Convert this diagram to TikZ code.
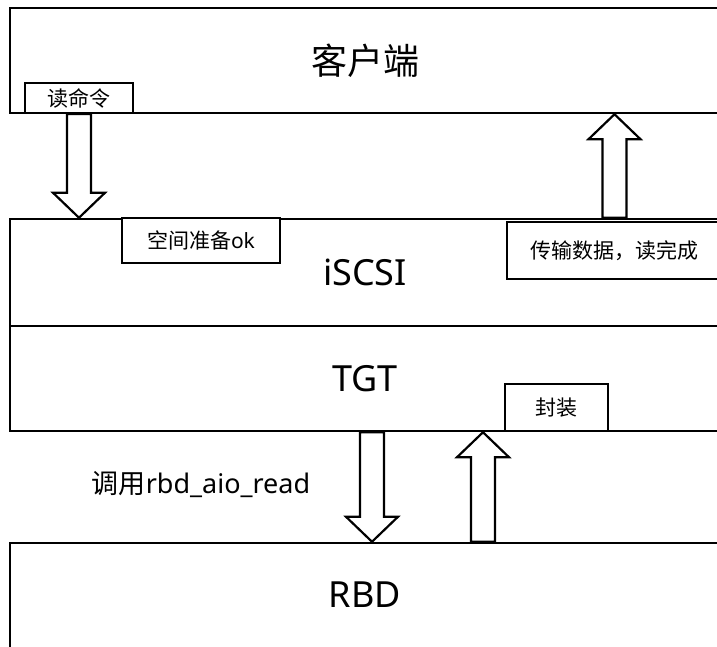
\documentclass[tikz,border=0pt]{standalone}
\usepackage{fontspec}
\setmainfont{Noto Sans}
\newfontfamily\cjk{Noto Sans CJK SC}
\usetikzlibrary{calc}

\tikzset{
  layer/.style={draw, line width=2.5pt, minimum width=710pt, inner sep=0pt,
                font=\fontsize{36}{40}\selectfont},
  tag/.style={draw, fill=white, line width=2.2pt, inner sep=0pt,
              font=\fontsize{21}{24}\selectfont},
  fatline/.style={draw, fill=white, line width=2.2pt, line join=miter},
}

% hollow block arrow, shaft from #1, tip at #2
\newcommand{\fatarrow}[2]{%
  \path[fatline] let \p1=(#1), \p2=(#2), \p3=($(\p2)!25pt!(\p1)$) in
    (\x1-12pt,\y1) -- (\x1-12pt,\y3) -- (\x1-26pt,\y3) -- (\x2,\y2)
    -- (\x1+26pt,\y3) -- (\x1+12pt,\y3) -- (\x1+12pt,\y1) -- cycle;}

\begin{document}
\begin{tikzpicture}[x=1pt,y=1pt]
  \useasboundingbox (0,0) rectangle (717,-647);
  \clip (0,0) rectangle (717,-647);

  % the four layers
  \node[layer, minimum height=105pt] (client) at (365,-60.5) {\cjk 客户端};
  \node[layer, minimum height=107pt] (iscsi) at (365,-272.5) {iSCSI};
  \node[layer, minimum height=105pt] (tgt) at (365,-378.5) {TGT};
  \node[layer, minimum height=130pt] (rbd) at (365,-608) {};
  \node[font=\fontsize{36}{40}\selectfont] (rbdtext) at (365,-595) {RBD};

  % small tags on the layer borders
  \node[tag, minimum width=108pt, minimum height=30pt] (cmd) at (79,-98) {\cjk 读命令};
  \node[tag, minimum width=158pt, minimum height=45pt] (ready) at (201,-240.5) {{\cjk 空间准备}ok};
  \node[tag, minimum width=215pt, minimum height=57pt] (done) at (614.5,-250.5) {\cjk 传输数据，读完成};
  \node[tag, minimum width=103pt, minimum height=47pt] (wrap) at (556.5,-407.5) {\cjk 封装};
  \node[font=\fontsize{27}{30}\selectfont] (call) at (201,-485) {{\cjk 调用}rbd\_aio\_read};

  % arrows between the layers
  \coordinate (down2) at (372,0);
  \coordinate (up2) at (483,0);
  \fatarrow{cmd.south}{cmd.south |- iscsi.north}
  \fatarrow{done.north |- iscsi.north}{done.north |- client.south}
  \fatarrow{down2 |- tgt.south}{down2 |- rbd.north}
  \fatarrow{up2 |- rbd.north}{up2 |- tgt.south}
\end{tikzpicture}
\end{document}
